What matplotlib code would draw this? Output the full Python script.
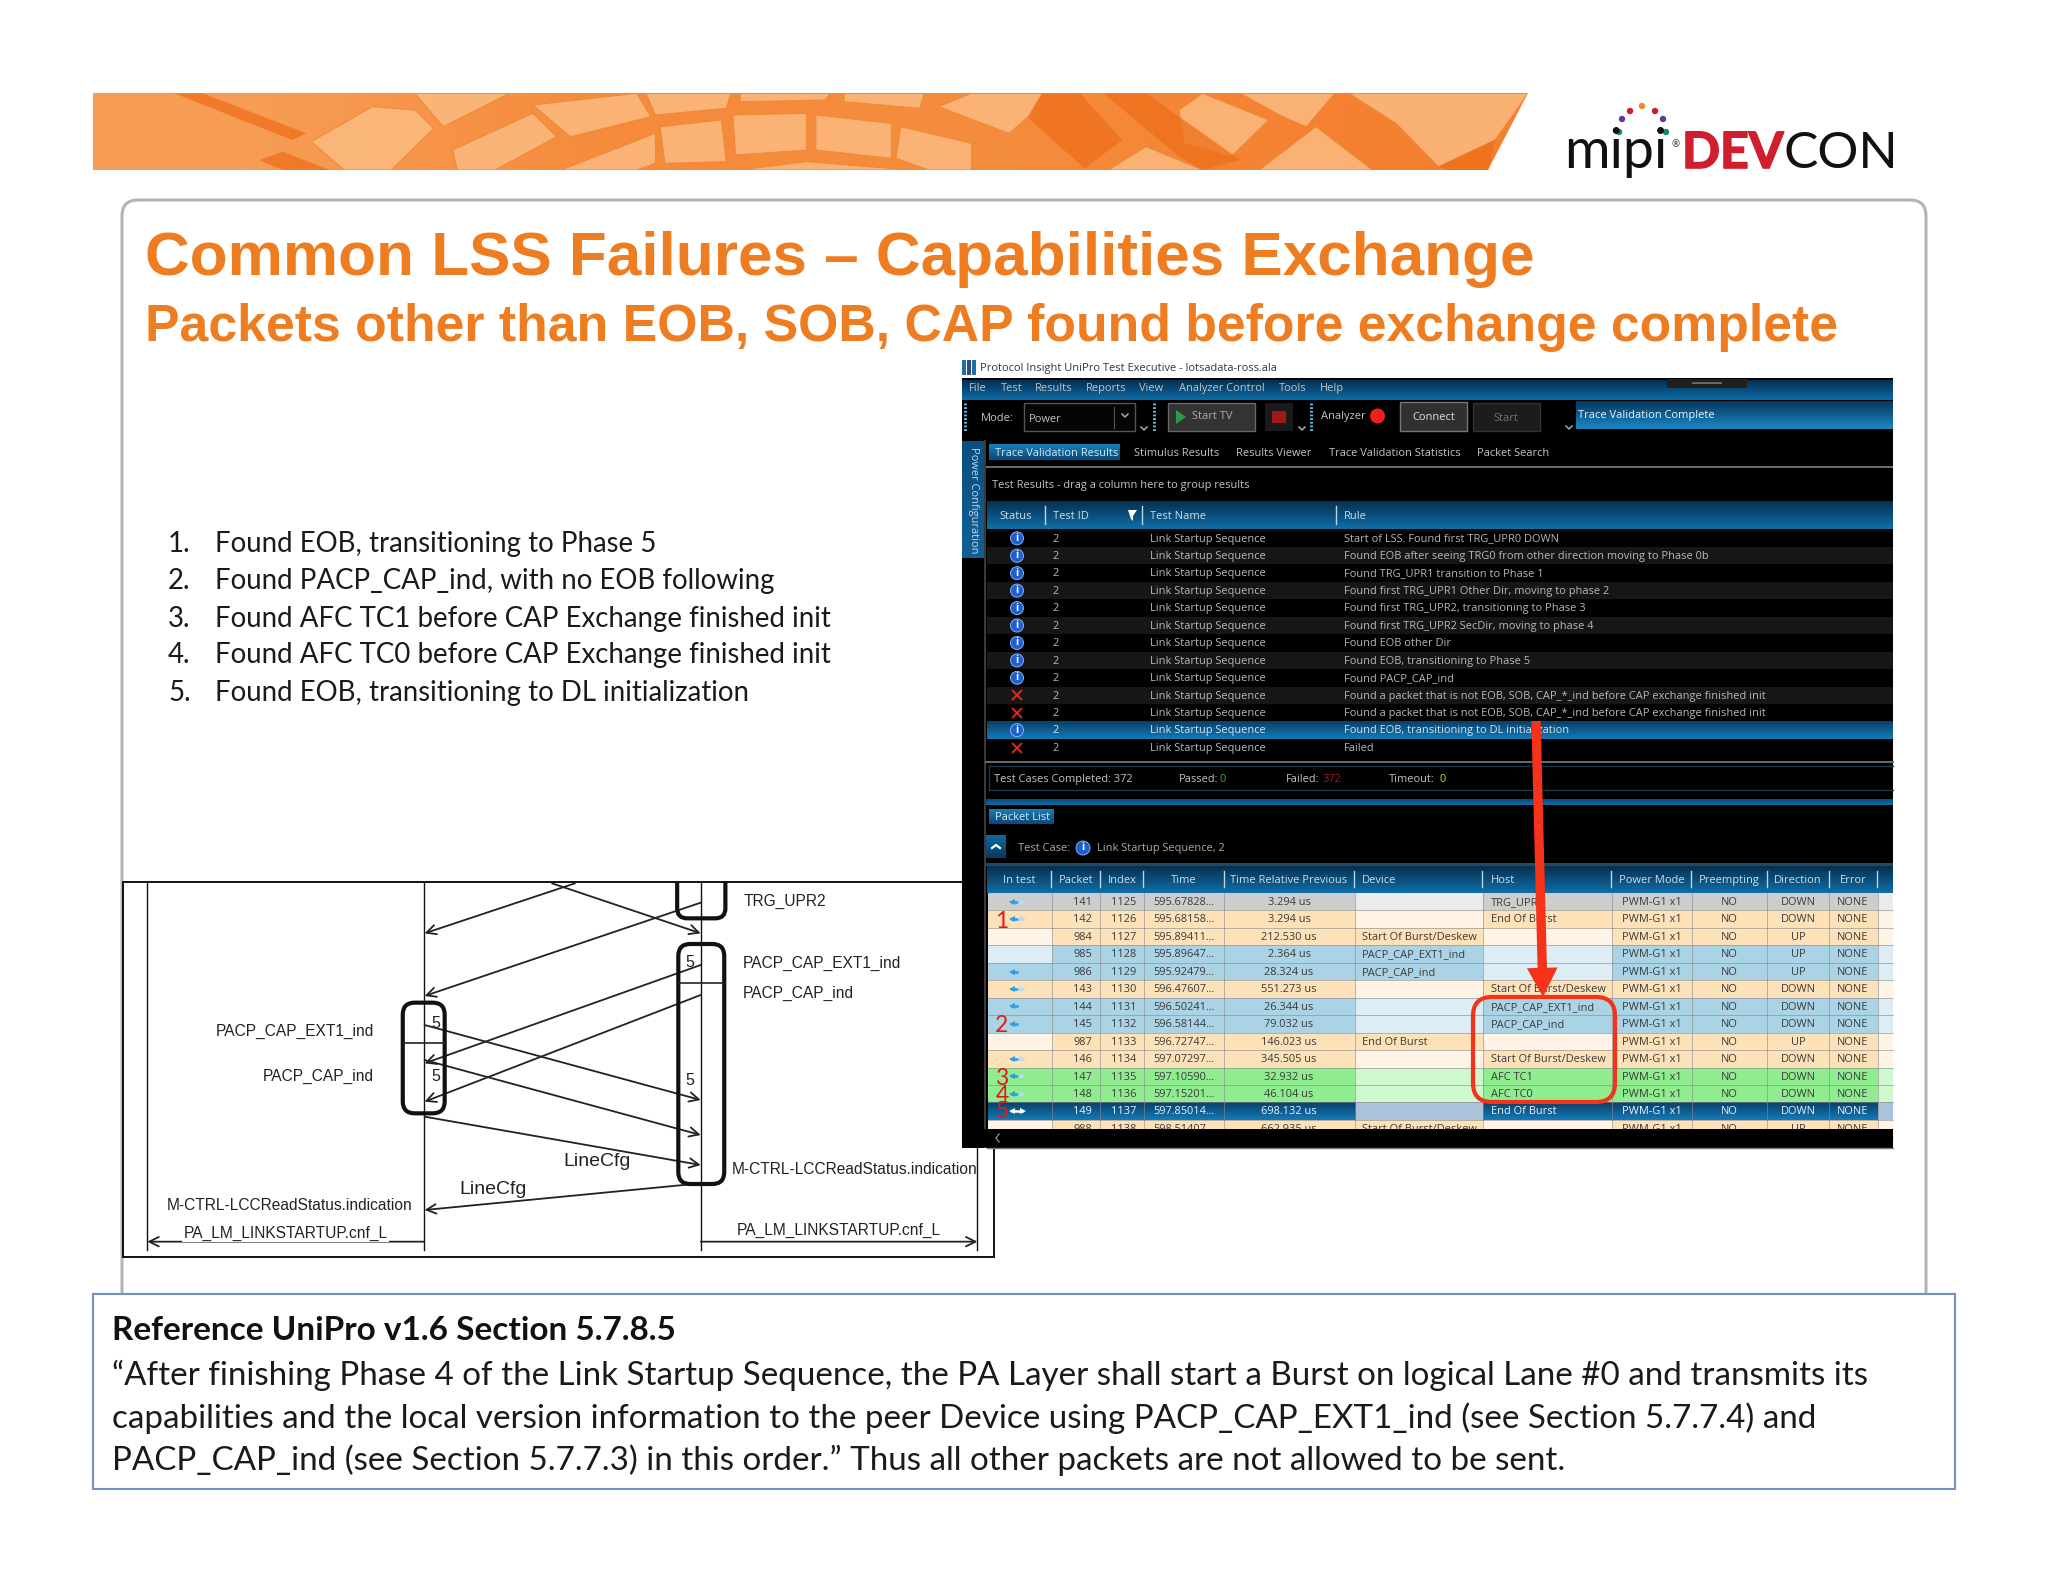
import numpy as np
import matplotlib
matplotlib.use("Agg")
import matplotlib.pyplot as plt
import matplotlib.patheffects as pe
from matplotlib.colors import to_rgb
from matplotlib.patches import Rectangle, FancyBboxPatch, Polygon, Circle

# slide text
title = "Common LSS Failures \u2013 Capabilities Exchange"
subtitle = "Packets other than EOB, SOB, CAP found before exchange complete"
findings = [
    "Found EOB, transitioning to Phase 5",
    "Found PACP_CAP_ind, with no EOB following",
    "Found AFC TC1 before CAP Exchange finished init",
    "Found AFC TC0 before CAP Exchange finished init",
    "Found EOB, transitioning to DL initialization",
]
ref_head = "Reference UniPro v1.6 Section 5.7.8.5"
ref_lines = [
    "\u201cAfter finishing Phase 4 of the Link Startup Sequence, the PA Layer shall start a Burst on logical Lane #0 and transmits its",
    "capabilities and the local version information to the peer Device using PACP_CAP_EXT1_ind (see Section 5.7.7.4) and",
    "PACP_CAP_ind (see Section 5.7.7.3) in this order.\u201d Thus all other packets are not allowed to be sent.",
]

# test results table
rule_text = [
    "Start of LSS. Found first TRG_UPR0 DOWN",
    "Found EOB after seeing TRG0 from other direction moving to Phase 0b",
    "Found TRG_UPR1 transition to Phase 1",
    "Found first TRG_UPR1 Other Dir, moving to phase 2",
    "Found first TRG_UPR2, transitioning to Phase 3",
    "Found first TRG_UPR2 SecDir, moving to phase 4",
    "Found EOB other Dir",
    "Found EOB, transitioning to Phase 5",
    "Found PACP_CAP_ind",
    "Found a packet that is not EOB, SOB, CAP_*_ind before CAP exchange finished init",
    "Found a packet that is not EOB, SOB, CAP_*_ind before CAP exchange finished init",
    "Found EOB, transitioning to DL initialization",
    "Failed",
]
rule_status = ["i", "i", "i", "i", "i", "i", "i", "i", "i", "x", "x", "i", "x"]

# packet list table
pkt_packet = [141, 142, 984, 985, 986, 143, 144, 145, 987, 146, 147, 148, 149, 988]
pkt_index = [1125, 1126, 1127, 1128, 1129, 1130, 1131, 1132, 1133, 1134, 1135, 1136, 1137, 1138]
pkt_time = ["595.67828...", "595.68158...", "595.89411...", "595.89647...", "595.92479...",
            "596.47607...", "596.50241...", "596.58144...", "596.72747...", "597.07297...",
            "597.10590...", "597.15201...", "597.85014...", "598.51407..."]
pkt_rel = ["3.294 us", "3.294 us", "212.530 us", "2.364 us", "28.324 us", "551.273 us", "26.344 us",
           "79.032 us", "146.023 us", "345.505 us", "32.932 us", "46.104 us", "698.132 us", "662.935 us"]
pkt_device = ["", "", "Start Of Burst/Deskew", "PACP_CAP_EXT1_ind", "PACP_CAP_ind", "", "", "",
              "End Of Burst", "", "", "", "", "Start Of Burst/Deskew"]
pkt_host = ["TRG_UPR2", "End Of Burst", "", "", "", "Start Of Burst/Deskew", "PACP_CAP_EXT1_ind",
            "PACP_CAP_ind", "", "Start Of Burst/Deskew", "AFC TC1", "AFC TC0", "End Of Burst", ""]
pkt_dir = ["DOWN", "DOWN", "UP", "UP", "UP", "DOWN", "DOWN", "DOWN", "UP", "DOWN", "DOWN", "DOWN", "DOWN", "UP"]
pkt_kind = ["grey", "orange", "orange", "blue", "blue", "orange", "blue", "blue", "orange", "orange",
            "green", "green", "sel", "orange"]
pkt_arrow = ["both", "both", "", "", "left", "both", "left", "left", "", "both", "both", "both", "both", ""]
pkt_marks = {142: "1", 145: "2", 147: "3", 148: "4", 149: "5"}
pkt_headers = ["In test", "Packet", "Index", "Time", "Time Relative Previous", "Device", "Host",
               "Power Mode", "Preempting", "Direction", "Error"]

kind_dark = {"grey": "#cdcdcd", "orange": "#fde1b8", "blue": "#abd3e6", "green": "#8fec8f", "sel": "#0d5f9c"}
kind_light = {"grey": "#ebebeb", "orange": "#fef3e4", "blue": "#dcedf6", "green": "#cff8cf", "sel": "#a9c3da"}

UI = "Open Sans"
ORANGE = "#ee7d22"
FS = 7.9

fig = plt.figure(figsize=(20.48, 15.82), dpi=100)
ax = fig.add_axes([0, 0, 1, 1])


def txt(x, y, s, size=FS, color="#c4c4c4", ha="left", va="center", z=13, family=UI, **kw):
    if family == UI:
        y = y + 0.8
    ax.text(x, y, s, fontsize=size, color=color, ha=ha, va=va, zorder=z, family=family, **kw)


def rect(x0, y0, x1, y1, color, z=10, **kw):
    ax.add_patch(Rectangle((x0, y0), x1 - x0, y1 - y0, facecolor=color, edgecolor="none", zorder=z, **kw))


def grad(x0, y0, x1, y1, top, bottom, z=11):
    c = np.linspace(to_rgb(top), to_rgb(bottom), 32)[:, None, :]
    ax.imshow(c, extent=(x0, x1, y1, y0), aspect="auto", zorder=z, interpolation="bilinear")


def round_box(x0, y0, x1, y1, r, fc="none", ec="black", lw=1.0, z=5):
    ax.add_patch(FancyBboxPatch((x0 + r, y0 + r), x1 - x0 - 2 * r, y1 - y0 - 2 * r,
                                boxstyle=f"round,pad={r},rounding_size={r}",
                                facecolor=fc, edgecolor=ec, linewidth=lw, zorder=z))


def info_icon(x, y, r=6.5):
    ax.add_patch(Circle((x, y), r, facecolor="#1f5fd0", edgecolor="#7fb0f0", linewidth=0.7, zorder=13))
    ax.text(x, y, "i", color="white", fontsize=7.5, fontweight="bold", ha="center", va="center", zorder=14, family=UI)


# banner
banner = Polygon([(93, 93), (1528, 93), (1488, 170), (93, 170)], closed=True, facecolor="none", edgecolor="none")
ax.add_patch(banner)
img = np.array([[to_rgb("#f79c54"), to_rgb("#f58a3a"), to_rgb("#f58d3e"), to_rgb("#f48030")]])
bg = ax.imshow(img, extent=(93, 1528, 170, 93), aspect="auto", zorder=1, interpolation="bilinear")
bg.set_clip_path(banner)
panels = [
    [(245, 185), (310, 80), (355, 90), (375, 145), (330, 270), (280, 270)],
    [(355, 40), (455, 40), (385, 140)],
    [(395, 210), (480, 100), (505, 170), (440, 270), (400, 270)],
    [(480, 75), (590, 40), (605, 110), (520, 170)],
    [(600, 40), (690, 40), (685, 85), (610, 105)],
    [(700, 40), (795, 40), (790, 60), (700, 65)],
    [(810, 40), (895, 40), (890, 85), (810, 65)],
    [(910, 80), (945, 40), (1020, 40), (1005, 110), (985, 160)],
    [(615, 140), (680, 120), (685, 245), (620, 250)],
    [(692, 105), (770, 100), (770, 210), (695, 225)],
    [(780, 105), (860, 130), (860, 235), (780, 210)],
    [(870, 140), (945, 190), (945, 270), (900, 270), (865, 235)],
    [(1165, 90), (1190, 40), (1260, 120), (1220, 230), (1170, 190)],
    [(1345, 40), (1535, 40), (1500, 180), (1440, 260), (1395, 130)],
    [(1250, 270), (1310, 140), (1370, 270)],
    [(1230, 40), (1330, 40), (1300, 140), (1275, 110)],
    [(510, 270), (610, 160), (610, 250), (590, 270)],
    [(700, 270), (770, 245), (880, 270)],
    [(1090, 270), (1130, 200), (1190, 270)],
]
for p in panels:
    pts = [(80 + zx / 1.06, 80 + zy / 3) for zx, zy in p]
    pa = Polygon(pts, closed=True, facecolor="#fbbb80", edgecolor="#f08636", linewidth=0.8, alpha=0.85, zorder=2)
    ax.add_patch(pa)
    pa.set_clip_path(banner)
dark_bands = [
    [(1020, 40), (1060, 40), (1105, 180), (1065, 265), (1005, 115)],
    [(100, 40), (130, 40), (240, 160), (225, 180)],
    [(1085, 40), (1130, 40), (1230, 240), (1190, 270), (1165, 230)],
    [(190, 240), (215, 215), (265, 270), (215, 270)],
    [(1440, 260), (1500, 180), (1493, 270), (1450, 270)],
]
for p in dark_bands:
    pts = [(80 + zx / 1.06, 80 + zy / 3) for zx, zy in p]
    pa = Polygon(pts, closed=True, facecolor="#ee6f1a", edgecolor="none", alpha=0.75, zorder=2)
    ax.add_patch(pa)
    pa.set_clip_path(banner)

# logo
for px, py, col in [(1619, 132, "#0e8a72"), (1666, 132, "#0e8a72"), (1622, 119, "#5a3a98"), (1663, 119, "#5a3a98"),
                    (1630, 111, "#c41f33"), (1655, 111, "#c41f33"), (1642, 106, "#f08a2c")]:
    ax.add_patch(Circle((px, py), 3.2, facecolor=col, edgecolor="none", zorder=3))
ax.text(1564, 168, "mipi", fontsize=40, family="Lato", color="#111111", va="baseline", zorder=3)
ax.text(1672, 145, "\u00ae", fontsize=7, family="Lato", color="#333333", va="center", zorder=3)
ax.text(1682, 168, "DEV", fontsize=36, family="Lato", fontweight="bold", color="#cf1f2e", va="baseline", zorder=3,
        path_effects=[pe.withStroke(linewidth=1.2, foreground="#cf1f2e")])
ax.text(1783, 168, "CON", fontsize=37, family="Lato", color="#111111", va="baseline", zorder=3)

# outer frame of the slide
round_box(122, 200, 1926, 1330, 16, fc="white", ec="#b4b4b4", lw=2.2, z=0.5)

# titles and finding list
txt(145, 259, title, size=44.65, color=ORANGE, family="Liberation Sans", fontweight="bold", z=20)
txt(145, 328, subtitle, size=37.25, color=ORANGE, family="Liberation Sans", fontweight="bold", z=20)
for i, (s, y) in enumerate(zip(findings, [544, 581, 619, 655, 693])):
    txt(168, y, f"{i + 1}.", size=19.9, color="#1a1a1a", family="Lato", z=6)
    txt(215, y, s, size=19.9, color="#1a1a1a", family="Lato", z=6)

# sequence diagram, positions measured in the crop


def sx(v):
    return 110 + v / 1.742


def sy(v):
    return 870 + v / 3


ax.add_patch(Rectangle((123, 882), 871, 375, facecolor="white", edgecolor="#111111", linewidth=1.4, zorder=4))
for v in [65, 547, 1029, 1511]:
    ax.plot([sx(v), sx(v)], [882, 1250], color="#111111", lw=1.0, zorder=5)
msg_arrows = [
    ((810, 40), (548, 190)), ((770, 40), (1029, 190)), ((1029, 98), (548, 378)),
    ((1029, 285), (548, 580)), ((1029, 375), (548, 695)), ((548, 465), (1029, 690)),
    ((548, 570), (1029, 795)), ((548, 740), (1029, 885)), ((1029, 940), (548, 1020)),
    ((547, 1115), (65, 1115)), ((1029, 1115), (1511, 1115)),
]
for a, b in msg_arrows:
    ax.annotate("", xy=(sx(b[0]), sy(b[1])), xytext=(sx(a[0]), sy(a[1])), zorder=5,
                arrowprops=dict(arrowstyle="->", color="#222222", lw=1.3, mutation_scale=17, shrinkA=0, shrinkB=0))
for x0, y0, x1, y1, r in [(988, -40, 1072, 145, 10), (990, 222, 1070, 942, 12), (510, 398, 583, 730, 12)]:
    round_box(sx(x0), sy(y0), sx(x1), sy(y1), r, ec="#111111", lw=3.0, z=5)
# the top box runs out of the frame, hide that part
rect(sx(975), 850, sx(1085), 881.2, "white", z=5.5)
ax.plot([sx(990), sx(1070)], [sy(338), sy(338)], color="#222222", lw=1.2, zorder=5)
ax.plot([sx(510), sx(583)], [sy(520), sy(520)], color="#222222", lw=1.2, zorder=5)
seq_labels = [
    (1103, 95, "TRG_UPR2", "left"), (1103, 280, "PACP_CAP_EXT1_ind", "left"), (1103, 370, "PACP_CAP_ind", "left"),
    (460, 484, "PACP_CAP_EXT1_ind", "right"), (460, 620, "PACP_CAP_ind", "right"),
    (1083, 900, "M-CTRL-LCCReadStatus.indication", "left"), (527, 1005, "M-CTRL-LCCReadStatus.indication", "right"),
    (1270, 1080, "PA_LM_LINKSTARTUP.cnf_L", "center"),
]
for x, y, s, ha in seq_labels:
    txt(sx(x), sy(y), s, size=11.2, color="#222222", ha=ha, family="Liberation Sans", z=6)
txt(sx(306), sy(1090), "PA_LM_LINKSTARTUP.cnf_L", size=11.2, color="#222222", ha="center", family="Liberation Sans",
    z=6, bbox=dict(facecolor="white", edgecolor="none", pad=1))
txt(sx(790), sy(874), "LineCfg", size=14, color="#222222", family="Liberation Sans", z=6)
txt(sx(609), sy(960), "LineCfg", size=14, color="#222222", family="Liberation Sans", z=6)
for x, y in [(1010, 278), (567, 460), (567, 620), (1010, 632)]:
    txt(sx(x), sy(y), "5", size=11.5, color="#222222", ha="center", family="Liberation Sans", z=6)

# reference box
ax.add_patch(Rectangle((93, 1294), 1862, 195, facecolor="white", edgecolor="#6f94c0", linewidth=1.5, zorder=6))
txt(112, 1331, ref_head, size=24, color="#111111", family="Lato", fontweight="bold", z=7)
for s, y in zip(ref_lines, [1375, 1418, 1460]):
    txt(112, y, s, size=23.85, color="#1a1a1a", family="Lato", z=7)

# application screenshot: window chrome
rect(962, 360, 1893, 378, "white", z=10)
rect(962, 378, 1893, 1148, "black", z=10)
for x0, col in [(962, "#1f6fa8"), (967, "#2c4f80"), (972, "#1f6fa8")]:
    rect(x0, 360, x0 + 4.4, 375, col, z=11)
txt(980, 368, "Protocol Insight UniPro Test Executive - lotsadata-ross.ala", color="#333333")
grad(962, 380, 1893, 400, "#062f52", "#0c6ca6")
rect(1667, 379, 1747, 388, "#202020", z=12)
rect(1692, 382, 1722, 384, "#666666", z=12)
menu_items = ["File", "Test", "Results", "Reports", "View", "Analyzer Control", "Tools", "Help"]
for s, zx in zip(menu_items, [52, 142, 238, 380, 530, 640, 920, 1035]):
    txt(950 + zx / 2.8, 388, s)
for x in [965, 1154, 1311]:
    ax.plot([x, x], [403, 432], color="#5ab4e8", lw=2.2, ls=(0, (0.6, 0.6)), zorder=12)
txt(981, 418, "Mode:", size=8)
ax.add_patch(Rectangle((1024, 403), 111, 28, facecolor="#050505", edgecolor="#555555", linewidth=1, zorder=12))
txt(1029, 419, "Power")
ax.plot([1114, 1114], [407, 428], color="#555555", lw=0.8, zorder=13)
for x, y in [(1125, 416), (1144, 429), (1302, 429), (1569, 428)]:
    ax.plot([x - 3, x, x + 3], [y - 2, y + 1, y - 2], color="#aaaaaa", lw=1.1, zorder=13)
ax.add_patch(Rectangle((1168, 403), 87, 28, facecolor="#333333", edgecolor="#666666", linewidth=1, zorder=12))
ax.add_patch(Polygon([(1176, 410), (1176, 424), (1186, 417)], facecolor="#2e9a48", edgecolor="none", zorder=13))
txt(1192, 416, "Start TV", size=8, color="#aaaaaa")
rect(1265, 403, 1293, 431, "#1a1a1a", z=12)
rect(1272, 411, 1286, 423, "#a01818", z=13)
txt(1321, 416, "Analyzer", size=8)
ax.add_patch(Circle((1377.5, 416), 7.5, facecolor="#f02020", edgecolor="none", zorder=13))
ax.add_patch(Rectangle((1400, 402), 67, 29, facecolor="#303030", edgecolor="#777777", linewidth=1, zorder=12))
txt(1433.5, 417, "Connect", size=8, color="#dddddd", ha="center")
ax.add_patch(Rectangle((1473, 403), 67, 28, facecolor="#1c1c1c", edgecolor="#333333", linewidth=1, zorder=12))
txt(1506, 418, "Start", size=8, color="#707070", ha="center")
grad(1576, 401, 1893, 429, "#06385f", "#1a87c4")
txt(1578, 415, "Trace Validation Complete", size=8, color="#e8f4ff")

# sidebar and tabs
grad(962, 441, 984, 558, "#0a4f80", "#125f94")
ax.text(973, 447, "Power Configuration", fontsize=FS, color="#c4d8e8", rotation=-90, ha="center", va="top", zorder=13, family=UI)
rect(984, 440, 986, 1148, "#3a3a3a", z=12)
grad(989, 444, 1120, 460, "#1a7fb8", "#0a4a78")
txt(995, 453, "Trace Validation Results", color="#d4e8f4")
for s, x in zip(["Stimulus Results", "Results Viewer", "Trace Validation Statistics", "Packet Search"], [1134, 1236, 1329, 1477]):
    txt(x, 453, s)
rect(986, 466, 1893, 468, "#6a6a6a", z=12)

# test results table
txt(992, 485, "Test Results - drag a column here to group results")
grad(987, 501, 1893, 529, "#063050", "#0f6ea8")
for s, x, ha in [("Status", 1016, "center"), ("Test ID", 1053, "left"), ("Test Name", 1150, "left"), ("Rule", 1344, "left")]:
    txt(x, 516, s, size=8, color="#d0dce4", ha=ha)
for x in [1045, 1142, 1336]:
    ax.plot([x, x], [506, 524], color="#c0d4e0", lw=1, zorder=12)
ax.add_patch(Polygon([(1128, 510), (1137, 510), (1133, 516), (1133, 521), (1131, 519)], facecolor="white", edgecolor="none", zorder=13))
for i, (rule, st) in enumerate(zip(rule_text, rule_status)):
    y = 538.3 + 17.44 * i
    if i == 11:
        grad(987, y - 8.7, 1893, y + 8.7, "#0a3f68", "#137ab8")
    elif i % 2 == 1:
        rect(987, y - 8.7, 1893, y + 8.7, "#161616", z=11)
    if st == "i":
        info_icon(1017, y)
    else:
        ax.plot([1017], [y], marker="x", ms=7.5, mew=1.4, color="#e02820", zorder=13)
    col = "#b9b9b9" if i != 11 else "#d4e4ee"
    txt(1056, y, "2", color=col, ha="center")
    txt(1150, y, "Link Startup Sequence", color=col)
    txt(1344, y, rule, color=col)

# status line
ax.plot([986, 1893], [762, 762], color="#6a6a6a", lw=1.4, zorder=12)
ax.plot([989, 1893], [766, 766], color="#163a54", lw=1, zorder=12)
ax.plot([989, 1893], [790, 790], color="#163a54", lw=1, zorder=12)
ax.plot([989, 989], [766, 790], color="#163a54", lw=1, zorder=12)
txt(994, 779, "Test Cases Completed: 372")
txt(1179, 779, "Passed:")
txt(1219, 779, "0", color="#3fae3f")
txt(1286, 779, "Failed:")
txt(1322, 779, "372", color="#b01818")
txt(1389, 779, "Timeout:")
txt(1439, 779, "0", color="#c8d820")

# packet list
grad(986, 799, 1893, 805, "#0a4a78", "#0f6ea8")
grad(989, 809, 1054, 824, "#1a7fb8", "#0a4a78")
txt(995, 817, "Packet List", color="#d4e8f4")
grad(986, 835, 1006, 858, "#1268a0", "#063a60")
ax.plot([992, 996, 1000], [848, 845, 848], color="white", lw=1.6, zorder=13)
txt(1018, 848, "Test Case:", color="#aaaaaa")
info_icon(1083, 848, r=7)
txt(1097, 848, "Link Startup Sequence, 2", color="#aaaaaa")
rect(986, 863, 1893, 866, "#25475f", z=12)
grad(987, 866, 1893, 893, "#063050", "#0f6ea8")
head_x = [1019, 1076, 1122, 1184, 1289, 1362, 1491, 1652, 1729, 1798, 1853]
for s, x in zip(pkt_headers, head_x):
    txt(x, 880, s, size=8, color="#d0dce4", ha="left" if s in ("Device", "Host") else "center")
for x in [1051, 1100, 1143, 1224, 1354, 1482, 1611, 1691, 1767, 1829, 1877]:
    ax.plot([x, x], [871, 887], color="#c0d4e0", lw=1, zorder=12)

edges = [987.5, 1052, 1100, 1143.6, 1224, 1355, 1483, 1612, 1692, 1767, 1829, 1878, 1893]
dh = 17.45
for i, pk in enumerate(pkt_packet):
    y0 = 893 + dh * i
    kind = pkt_kind[i]
    dark, light = kind_dark[kind], kind_light[kind]
    rect(edges[0], y0, edges[-1], y0 + dh, light, z=11)
    if pkt_arrow[i]:
        rect(edges[0], y0, edges[1], y0 + dh, dark, z=11)
    rect(edges[1], y0, edges[5], y0 + dh, dark, z=11)
    if pkt_device[i]:
        rect(edges[5], y0, edges[6], y0 + dh, dark, z=11)
    if pkt_host[i]:
        rect(edges[6], y0, edges[7], y0 + dh, dark, z=11)
    rect(edges[7], y0, edges[11], y0 + dh, dark, z=11)
    if kind == "sel":
        for a, b in [(0, 5), (6, 11)]:
            grad(edges[a], y0, edges[b], y0 + dh, "#0a3f68", "#137ab8", z=11.5)
    ax.plot([edges[0], edges[-1]], [y0 + dh, y0 + dh], color="#8a8a8a", lw=0.6, alpha=0.7, zorder=12)
    for x in edges[1:12]:
        ax.plot([x, x], [y0, y0 + dh], color="#8a8a8a", lw=0.6, alpha=0.7, zorder=12)
    y = y0 + dh / 2
    col = "#e8f2fa" if kind == "sel" else "#3a3a3a"
    txt(1092, y, str(pk), color=col, ha="right")
    txt(1136, y, str(pkt_index[i]), color=col, ha="right")
    txt(1153.6, y, pkt_time[i], color=col)
    txt(1289, y, pkt_rel[i], color=col, ha="center")
    txt(1362, y, pkt_device[i], color=col)
    txt(1491, y, pkt_host[i], color=col)
    txt(1652, y, "PWM-G1 x1", color=col, ha="center")
    txt(1729, y, "NO", color=col, ha="center")
    txt(1798, y, pkt_dir[i], color=col, ha="center")
    txt(1853, y, "NONE", color=col, ha="center")
    if pkt_arrow[i]:
        acol = "#ffffff" if kind == "sel" else "#2f9be0"
        ax.plot([1012, 1017], [y, y], color=acol, lw=1.8, zorder=13)
        ax.plot([1012], [y], marker="<", ms=5, color=acol, mew=0, zorder=13)
        if pkt_arrow[i] == "both":
            rcol = "#ffffff" if kind == "sel" else "#b8dcf0"
            ax.plot([1019, 1022], [y, y], color=rcol, lw=1.8, zorder=13)
            ax.plot([1023], [y], marker=">", ms=5, color=rcol, mew=0, zorder=13)
    if pk in pkt_marks:
        # the hand-typed red step numbers sit a little off the rows
        txt(1002, y + {142: 2, 145: 2, 147: 2, 148: 2, 149: 0}[pk], pkt_marks[pk], size=16.5, color="#e81818",
            ha="center", family="Lato", z=15)

rect(962, 1129, 1893, 1147, "black", z=14)
ax.plot([987, 1893], [1147.5, 1147.5], color="#777777", lw=1, zorder=14)
ax.plot([999, 996, 999], [1134, 1138, 1142], color="#888888", lw=1, zorder=15)

# red call-outs on the screenshot
round_box(1473, 997, 1615, 1102, 19, ec="#f5321a", lw=3.0, z=16)
ax.annotate("", xy=(1543, 997), xytext=(1536, 721), zorder=17,
            arrowprops=dict(arrowstyle="simple,head_length=1.0,head_width=1.05,tail_width=0.32",
                            color="#f5321a", mutation_scale=21, shrinkA=0, shrinkB=0, linewidth=0))

ax.set_xlim(0, 2048)
ax.set_ylim(1582, 0)
ax.axis("off")

plt.savefig("out.png", dpi=100)
plt.close(fig)
